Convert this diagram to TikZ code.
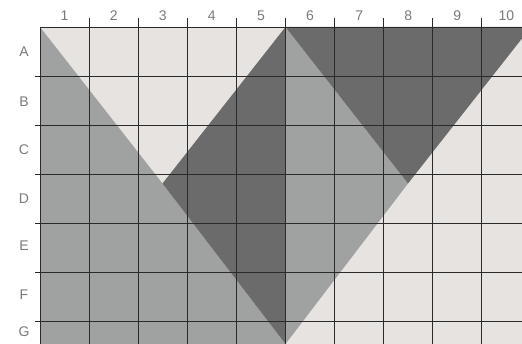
\documentclass[tikz,border=0pt]{standalone}
\usepackage{fontspec}
\setmainfont{Liberation Sans}
\definecolor{lightbg}{HTML}{E6E3E0}
\definecolor{midgray}{HTML}{A0A1A1}
\definecolor{darkgray}{HTML}{6B6B6B}
\definecolor{labelgray}{HTML}{7A7A7A}
\definecolor{gridline}{HTML}{2A2A2A}
\tikzset{
  gridln/.style={draw=gridline, line width=0.9pt},
  lbl/.style={text=labelgray, font=\fontsize{14}{16}\selectfont, inner sep=0pt, anchor=center}
}
\begin{document}
\begin{tikzpicture}[x=1pt,y=-1pt]
\useasboundingbox (0,0) rectangle (522,344);
\fill[white] (0,0) rectangle (522,344);
\begin{scope}
\clip (0,0) rectangle (522,344);
% key points
\coordinate (TL) at (40,27);
\coordinate (TM) at (285.5,27);
\coordinate (TR) at (531,27);
\coordinate (BL) at (40,344);
\coordinate (BM) at (285.5,344);
\coordinate (BR) at (531,344);
\coordinate (P) at (162.5,183.5);
\coordinate (Q) at (408,183.5);
% fills
\fill[lightbg] (TL) -- (TR) -- (BR) -- (BL) -- cycle;
\fill[midgray] (TL) -- (P) -- (BM) -- (BL) -- cycle;
\fill[darkgray] (TM) -- (P) -- (BM) -- cycle;
\fill[midgray] (TM) -- (Q) -- (BM) -- cycle;
\fill[darkgray] (TM) -- (TR) -- (Q) -- cycle;
% grid
\draw[gridln] (40,27) -- (40,344);
\foreach \i in {1,...,10} {
  \draw[gridln] ({40+49.1*\i},18) -- ({40+49.1*\i},344);
}
\draw[gridln] (40,27) -- (531,27);
\foreach \j in {1,...,6} {
  \draw[gridln] (35,{27+49*\j}) -- (531,{27+49*\j});
}
\end{scope}
% column labels
\foreach \i in {1,...,10} {
  \node[lbl] (c\i) at ({40+49.1*(\i-0.5)},16) {\i};
}
% row labels
\node[lbl] (rA) at (24,52) {A};
\node[lbl] (rB) at (24,102) {B};
\node[lbl] (rC) at (24,150) {C};
\node[lbl] (rD) at (24,199) {D};
\node[lbl] (rE) at (24,246) {E};
\node[lbl] (rF) at (24,295) {F};
\node[lbl] (rG) at (24,332) {G};
\end{tikzpicture}
\end{document}
